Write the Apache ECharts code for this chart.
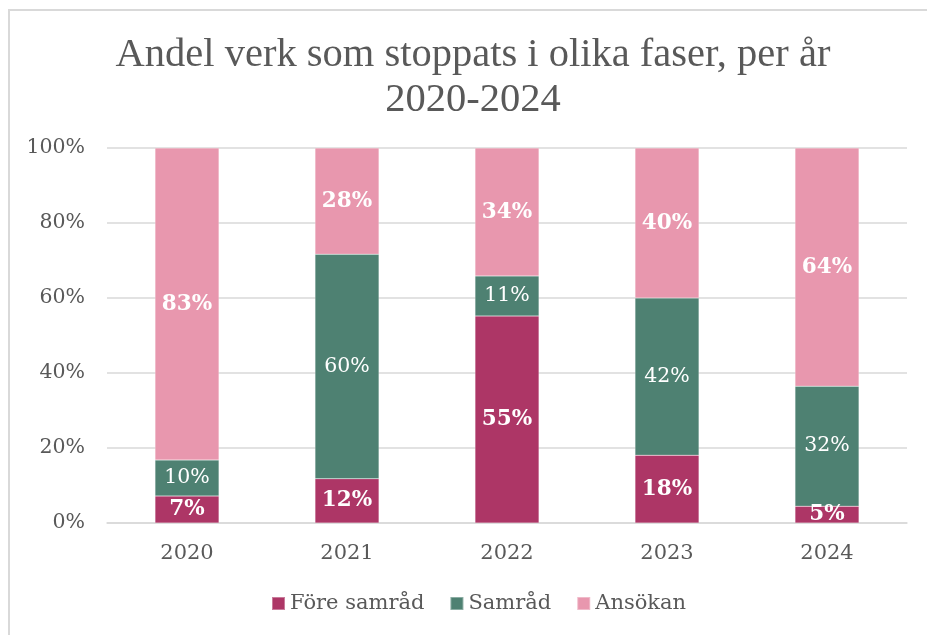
<!DOCTYPE html>
<html>
<head>
<meta charset="utf-8">
<script src="https://cdn.jsdelivr.net/npm/echarts@6/dist/echarts.min.js"></script>
<style>
html,body{margin:0;padding:0;background:#fff;}
#frame{position:absolute;left:8px;top:9px;width:940px;height:640px;border:2px solid #d9d9d9;box-sizing:border-box;}
#chart{position:absolute;left:0;top:0;width:927px;height:635px;}
</style>
</head>
<body>
<div id="frame"></div>
<div id="chart"></div>
<script>
const categories = ['2020', '2021', '2022', '2023', '2024'];
const foreSamrad = [7.2, 11.8, 55.2, 18.1, 4.5];
const samrad = [9.6, 59.9, 10.7, 41.9, 32.0];
const ansokan = [83.2, 28.3, 34.1, 40.0, 63.5];
const yTicks = [0, 20, 40, 60, 80, 100];
const seriesNames = ['Före samråd', 'Samråd', 'Ansökan'];
const colors = ['#ad3666', '#4e8172', '#e897ae'];

const serif = '"DejaVu Serif", serif';
const chart = echarts.init(document.getElementById('chart'));

function makeSeries(name, data, color, bold) {
  return {
    name: name,
    type: 'bar',
    stack: 'total',
    data: data,
    barWidth: '40%',
    itemStyle: { color: color, borderColor: 'rgba(255,255,255,0.35)', borderWidth: 0.5 },
    label: {
      show: true,
      position: 'inside',
      color: '#ffffff',
      fontFamily: serif,
      fontSize: bold ? 21.5 : 20.5,
      fontWeight: bold ? 'bold' : 'normal',
      formatter: p => Math.round(p.value) + '%'
    },
    emphasis: { disabled: true }
  };
}

chart.setOption({
  animation: false,
  title: {
    text: 'Andel verk som stoppats i olika faser, per år\n2020-2024',
    left: 468,
    textAlign: 'center',
    top: 28,
    textStyle: { fontFamily: '"Liberation Serif", serif', fontSize: 40.5, fontWeight: 'normal', color: '#595959', lineHeight: 45 }
  },
  legend: {
    bottom: 16,
    left: 266,
    itemWidth: 13,
    itemHeight: 13,
    itemGap: 25,
    icon: 'rect',
    textStyle: { fontFamily: serif, fontSize: 21, color: '#595959' },
    data: seriesNames
  },
  grid: { left: 107, right: 20, top: 148, bottom: 112, containLabel: false },
  xAxis: {
    type: 'category',
    data: categories,
    axisLine: { lineStyle: { color: '#d9d9d9', width: 1.5 } },
    axisTick: { show: false },
    axisLabel: { fontFamily: serif, fontSize: 21, color: '#595959', margin: 20 }
  },
  yAxis: {
    type: 'value',
    min: yTicks[0],
    max: yTicks[yTicks.length - 1],
    interval: 20,
    axisLine: { show: false },
    axisTick: { show: false },
    splitLine: { lineStyle: { color: '#d9d9d9', width: 1.5 } },
    axisLabel: { fontFamily: serif, fontSize: 20.5, color: '#595959', margin: 22, formatter: v => v + '%' }
  },
  series: [
    makeSeries(seriesNames[0], foreSamrad, colors[0], true),
    makeSeries(seriesNames[1], samrad, colors[1], false),
    makeSeries(seriesNames[2], ansokan, colors[2], true)
  ]
});
</script>
</body>
</html>
